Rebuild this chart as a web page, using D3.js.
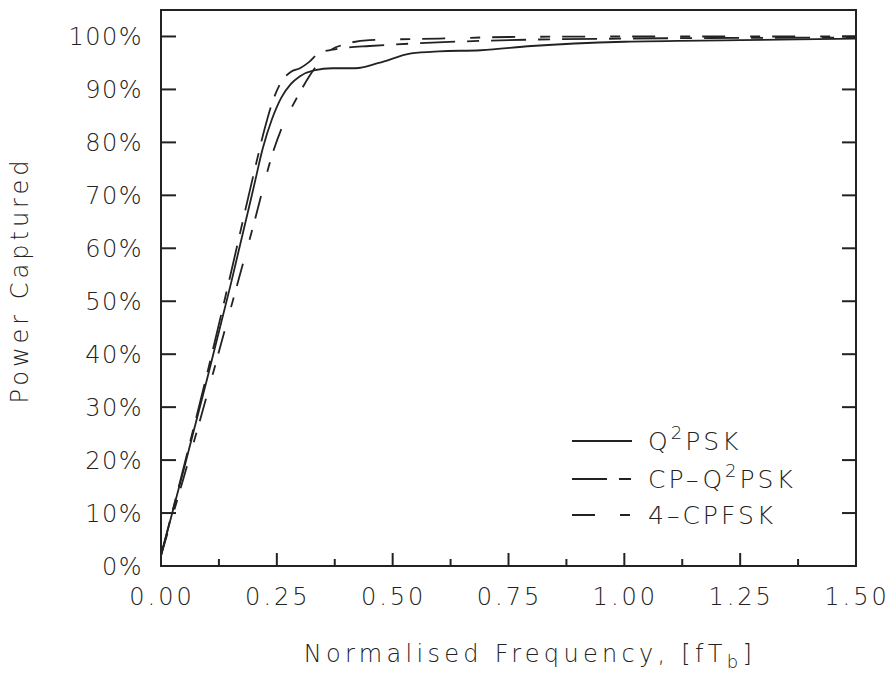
<!DOCTYPE html>
<html>
<head>
<meta charset="utf-8">
<script src="https://cdn.jsdelivr.net/npm/d3@7"></script>
<style>
  body { margin: 0; background: #fff; }
  text { font-family: "DejaVu Sans", sans-serif; font-weight: 200; fill: #222; }
</style>
</head>
<body>
<div id="chart"></div>
<script>
// frequency samples (fT_b) and power captured (%) per scheme
const q2pskF = [0, 0.05, 0.10, 0.15, 0.20, 0.22, 0.24, 0.26, 0.28, 0.30, 0.33, 0.37, 0.42, 0.47, 0.54, 0.60, 0.69, 0.80, 1.00, 1.25, 1.50];
const q2pskP = [2, 18.5, 35.5, 53, 71.5, 79, 84.5, 88.5, 91, 92.5, 93.6, 94.0, 94.0, 95.0, 96.8, 97.2, 97.4, 98.2, 99.0, 99.3, 99.6];

const cpq2pskF = [0, 0.05, 0.10, 0.15, 0.20, 0.225, 0.24, 0.26, 0.28, 0.30, 0.32, 0.34, 0.37, 0.40, 0.45, 0.55, 0.70, 1.00, 1.50];
const cpq2pskP = [2, 19, 36.5, 55, 74, 83, 87.5, 91.5, 93.3, 94.0, 95.2, 96.8, 97.5, 97.9, 98.2, 98.7, 99.2, 99.6, 99.8];

const cpfskF = [0, 0.05, 0.10, 0.15, 0.20, 0.243, 0.27, 0.282, 0.30, 0.318, 0.336, 0.36, 0.40, 0.45, 0.60, 0.75, 1.00, 1.50];
const cpfskP = [2, 17, 32.5, 48.5, 64.5, 78.5, 84.6, 86.6, 89.5, 92.2, 94.5, 97.0, 98.6, 99.3, 99.6, 99.9, 100, 100];

const seriesNames = ['Q\u00b2PSK', 'CP\u2013Q\u00b2PSK', '4\u2013CPFSK'];
const xTicks = [0, 0.25, 0.5, 0.75, 1.0, 1.25, 1.5];
const xMinorTicks = [0.125, 0.375, 0.625, 0.875, 1.125, 1.375];
const yTicks = [0, 10, 20, 30, 40, 50, 60, 70, 80, 90, 100];

const W = 892, H = 676;
const svg = d3.select('#chart').append('svg').attr('width', W).attr('height', H);

const x = d3.scaleLinear().domain([0, 1.5]).range([161, 856]);
const y = d3.scaleLinear().domain([0, 105]).range([566, 10]);

const series = [
  { name: seriesNames[0], f: q2pskF, p: q2pskP, dash: null },
  { name: seriesNames[1], f: cpq2pskF, p: cpq2pskP, dash: '35,12,12,12' },
  { name: seriesNames[2], f: cpfskF, p: cpfskP, dash: '23,25,10,12' }
];

const line = d3.line().x(d => x(d[0])).y(d => y(d[1])).curve(d3.curveMonotoneX);

// curves
series.forEach(s => {
  svg.append('path')
    .datum(s.f.map((f, i) => [f, s.p[i]]))
    .attr('d', line)
    .attr('fill', 'none')
    .attr('stroke', '#222')
    .attr('stroke-width', 1.8)
    .attr('stroke-dasharray', s.dash);
});

// frame
svg.append('rect')
  .attr('x', x(0)).attr('y', y(105))
  .attr('width', x(1.5) - x(0)).attr('height', y(0) - y(105))
  .attr('fill', 'none').attr('stroke', '#222').attr('stroke-width', 2);

// y ticks, inside on both sides
const yt = yTicks.filter(v => v > 0);
svg.append('g').selectAll('line.l').data(yt).join('line')
  .attr('x1', x(0)).attr('x2', x(0) + 15)
  .attr('y1', d => y(d)).attr('y2', d => y(d))
  .attr('stroke', '#222').attr('stroke-width', 2);
svg.append('g').selectAll('line.r').data(yt).join('line')
  .attr('x1', x(1.5)).attr('x2', x(1.5) - 14)
  .attr('y1', d => y(d)).attr('y2', d => y(d))
  .attr('stroke', '#222').attr('stroke-width', 2);

// x ticks, inside along bottom
svg.append('g').selectAll('line').data(xTicks.slice(1, -1)).join('line')
  .attr('x1', d => x(d)).attr('x2', d => x(d))
  .attr('y1', y(0)).attr('y2', y(0) - 13)
  .attr('stroke', '#222').attr('stroke-width', 2);
svg.append('g').selectAll('line').data(xMinorTicks).join('line')
  .attr('x1', d => x(d)).attr('x2', d => x(d))
  .attr('y1', y(0)).attr('y2', y(0) - 7)
  .attr('stroke', '#222').attr('stroke-width', 2);

// tick labels
svg.append('g').selectAll('text').data(yTicks).join('text')
  .attr('x', 143).attr('y', d => y(d) + 9)
  .attr('text-anchor', 'end')
  .attr('font-size', 24).attr('letter-spacing', 1.5)
  .text(d => d + '%');
svg.append('g').selectAll('text').data(xTicks).join('text')
  .attr('x', d => x(d) + 1).attr('y', 605)
  .attr('text-anchor', 'middle')
  .attr('font-size', 24).attr('letter-spacing', 3)
  .text(d => d.toFixed(2));

// axis titles
const xt = svg.append('text')
  .attr('x', 530).attr('y', 662)
  .attr('text-anchor', 'middle')
  .attr('font-size', 24).attr('letter-spacing', 4.3);
xt.append('tspan').text('Normalised Frequency, [fT');
xt.append('tspan').attr('font-size', 18).attr('dy', 6).text('b');
xt.append('tspan').attr('dy', -6).text(']');

svg.append('text')
  .attr('transform', 'translate(28,280) rotate(-90)')
  .attr('text-anchor', 'middle')
  .attr('font-size', 24).attr('letter-spacing', 4)
  .text('Power Captured');

// legend
const legendY = [441, 479, 515];
const lg = svg.append('g');
series.forEach((s, i) => {
  lg.append('line')
    .attr('x1', 572).attr('x2', 632)
    .attr('y1', legendY[i]).attr('y2', legendY[i])
    .attr('stroke', '#222').attr('stroke-width', 1.8)
    .attr('stroke-dasharray', s.dash);
  const t = lg.append('text')
    .attr('x', 648).attr('y', legendY[i] + 9)
    .attr('font-size', 25).attr('letter-spacing', 3);
  // render superscript 2 as a raised smaller tspan
  const parts = s.name.split('\u00b2');
  t.append('tspan').text(parts[0]);
  if (parts.length > 1) {
    t.append('tspan').attr('font-size', 18).attr('dy', -11).text('2');
    t.append('tspan').attr('dy', 11).text(parts[1]);
  }
});
</script>
</body>
</html>
